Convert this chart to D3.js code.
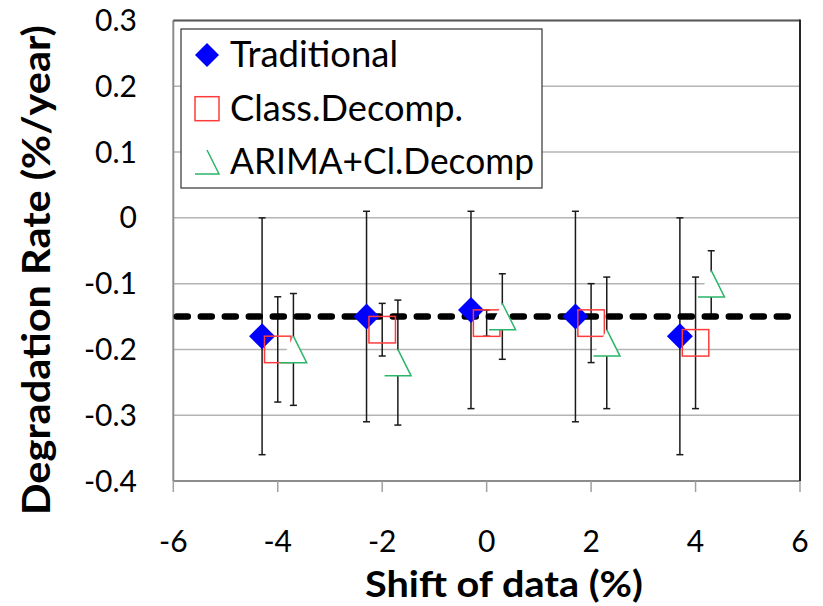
<!DOCTYPE html>
<html>
<head>
<meta charset="utf-8">
<script src="https://cdn.jsdelivr.net/npm/d3@7"></script>
<style>
  body { margin: 0; background: #fff; }
  svg text { font-family: Lato, "Open Sans", sans-serif; fill: #000; }
</style>
</head>
<body>
<div id="chart"></div>
<script>
// values
const traditionalShift = [-4.3, -2.3, -0.3, 1.7, 3.7];
const traditionalRate  = [-0.18, -0.15, -0.14, -0.15, -0.18];
const traditionalErr   = [0.18, 0.16, 0.15, 0.16, 0.18];

const classShift = [-4, -2, 0, 2, 4];
const classRate  = [-0.20, -0.17, -0.16, -0.16, -0.19];
const classErr   = [0.08, 0.04, 0.02, 0.06, 0.10];

const arimaShift = [-3.7, -1.7, 0.3, 2.3, 4.3];
const arimaRate  = [-0.20, -0.22, -0.15, -0.19, -0.10];
const arimaErr   = [0.085, 0.095, 0.065, 0.10, 0.05];

const referenceRate = -0.15;
const seriesNames = ["Traditional", "Class.Decomp.", "ARIMA+Cl.Decomp"];

const xTicks = [-6, -4, -2, 0, 2, 4, 6];
const xTickLabels = ["-6", "-4", "-2", "0", "2", "4", "6"];
const yTicks = [0.3, 0.2, 0.1, 0, -0.1, -0.2, -0.3, -0.4];
const yTickLabels = ["0.3", "0.2", "0.1", "0", "-0.1", "-0.2", "-0.3", "-0.4"];

const dimensions = {
    width: 823,
    height: 606,
    margin: { top: 20.5, right: 23, bottom: 125, left: 173.3 }
};

const x = d3.scaleLinear()
    .domain([-6, 6])
    .range([dimensions.margin.left, dimensions.width - dimensions.margin.right]);
const y = d3.scaleLinear()
    .domain([-0.4, 0.3])
    .range([dimensions.height - dimensions.margin.bottom, dimensions.margin.top]);

const svg = d3.select("#chart").append("svg")
    .attr("width", dimensions.width)
    .attr("height", dimensions.height);

function fitWidth(sel, w) {
    sel.attr("textLength", w).attr("lengthAdjust", "spacingAndGlyphs");
}

// gridlines
svg.append("g").selectAll("line")
    .data(yTicks)
    .join("line")
    .attr("x1", x(-6)).attr("x2", x(6))
    .attr("y1", d => y(d)).attr("y2", d => y(d))
    .attr("stroke", "#b4b4b4")
    .attr("stroke-width", 1.5);

// axis lines + x ticks
svg.append("line")
    .attr("x1", x(-6)).attr("x2", x(-6))
    .attr("y1", y(0.3)).attr("y2", y(-0.4))
    .attr("stroke", "#8c8c8c").attr("stroke-width", 2);
svg.append("line")
    .attr("x1", x(-6)).attr("x2", x(6))
    .attr("y1", y(-0.4)).attr("y2", y(-0.4))
    .attr("stroke", "#8c8c8c").attr("stroke-width", 2);
svg.append("g").selectAll("line")
    .data(xTicks)
    .join("line")
    .attr("x1", d => x(d)).attr("x2", d => x(d))
    .attr("y1", y(-0.4)).attr("y2", y(-0.4) + 11)
    .attr("stroke", "#a0a0a0").attr("stroke-width", 1.5);

// plot border, top and right
svg.append("line")
    .attr("x1", x(-6)).attr("x2", x(6))
    .attr("y1", y(0.3)).attr("y2", y(0.3))
    .attr("stroke", "#595959").attr("stroke-width", 2);
svg.append("line")
    .attr("x1", x(6)).attr("x2", x(6))
    .attr("y1", y(0.3) - 1).attr("y2", y(-0.4))
    .attr("stroke", "#262626").attr("stroke-width", 2);

// tick labels
svg.append("g").selectAll("text")
    .data(yTicks)
    .join("text")
    .attr("x", 137)
    .attr("y", d => y(d) + 10.5)
    .attr("text-anchor", "end")
    .style("font-size", "30px")
    .text((d, i) => yTickLabels[i]);

svg.append("g").selectAll("text")
    .data(xTicks)
    .join("text")
    .attr("x", d => x(d))
    .attr("y", 552)
    .attr("text-anchor", "middle")
    .style("font-size", "30px")
    .text((d, i) => xTickLabels[i]);

// axis titles
svg.append("text")
    .attr("x", 504).attr("y", 597)
    .attr("text-anchor", "middle")
    .style("font-size", "36px").style("font-weight", "bold")
    .text("Shift of data (%)")
    .call(fitWidth, 278);

svg.append("text")
    .attr("transform", "translate(50,270) rotate(-90)")
    .attr("text-anchor", "middle")
    .style("font-size", "39px").style("font-weight", "bold")
    .text("Degradation Rate (%/year)")
    .call(fitWidth, 490);

const series = [
    { shift: traditionalShift, rate: traditionalRate, err: traditionalErr, kind: "diamond" },
    { shift: classShift, rate: classRate, err: classErr, kind: "square" },
    { shift: arimaShift, rate: arimaRate, err: arimaErr, kind: "triangle" }
];

// error bars
series.forEach(s => {
    const pts = s.shift.map((d, i) => ({ sx: d, v: s.rate[i], e: s.err[i] }));
    const g = svg.append("g").attr("stroke", "#1a1a1a").attr("stroke-width", 1.5);
    g.selectAll(".bar").data(pts).join("line")
        .attr("x1", d => x(d.sx)).attr("x2", d => x(d.sx))
        .attr("y1", d => y(d.v + d.e)).attr("y2", d => y(d.v - d.e));
    g.selectAll(".capTop").data(pts).join("line")
        .attr("x1", d => x(d.sx) - 3.5).attr("x2", d => x(d.sx) + 3.5)
        .attr("y1", d => y(d.v + d.e)).attr("y2", d => y(d.v + d.e));
    g.selectAll(".capBot").data(pts).join("line")
        .attr("x1", d => x(d.sx) - 3.5).attr("x2", d => x(d.sx) + 3.5)
        .attr("y1", d => y(d.v - d.e)).attr("y2", d => y(d.v - d.e));
});

// reference line
svg.append("line")
    .attr("x1", x(-6)).attr("x2", x(6))
    .attr("y1", y(referenceRate)).attr("y2", y(referenceRate))
    .attr("stroke", "#000")
    .attr("stroke-width", 6.5)
    .attr("stroke-linecap", "round")
    .attr("stroke-dasharray", "11,13")
    .attr("stroke-dashoffset", -3.5);

// markers
function drawMarker(g, kind, size) {
    const h = size / 2;
    if (kind === "diamond") {
        g.append("path")
            .attr("d", `M0,${-h}L${h},0L0,${h}L${-h},0Z`)
            .attr("fill", "#0000ff");
    } else if (kind === "square") {
        g.append("rect")
            .attr("x", -h).attr("y", -h)
            .attr("width", size).attr("height", size)
            .attr("fill", "none")
            .attr("stroke", "#ff3b3b").attr("stroke-width", 1.5);
    } else {
        g.append("path")
            .attr("d", `M0,${-h}L${h},${h}L${-h},${h}Z`)
            .attr("fill", "#fff");
        g.append("path")
            .attr("d", `M0,${-h}L${h},${h}L${-h},${h}`)
            .attr("fill", "none")
            .attr("stroke", "#2bb56a").attr("stroke-width", 1.5);
    }
}

const markerSizes = { diamond: 26, square: 26.5, triangle: 26.5 };
series.forEach(s => {
    s.shift.forEach((d, i) => {
        const g = svg.append("g")
            .attr("transform", `translate(${x(d)},${y(s.rate[i])})`);
        drawMarker(g, s.kind, markerSizes[s.kind]);
    });
});

// legend
const legend = svg.append("g");
legend.append("rect")
    .attr("x", 181).attr("y", 29)
    .attr("width", 361).attr("height", 159)
    .attr("fill", "#fff")
    .attr("stroke", "#333").attr("stroke-width", 1.2);

const legendRows = [55, 108.7, 162];
const legendWidths = [168, 233, 304];
series.forEach((s, i) => {
    const g = legend.append("g").attr("transform", `translate(207,${legendRows[i]})`);
    drawMarker(g, s.kind, 24);
    legend.append("text")
        .attr("x", 230)
        .attr("y", legendRows[i] + 12)
        .style("font-size", "36px")
        .text(seriesNames[i])
        .call(fitWidth, legendWidths[i]);
});
</script>
</body>
</html>
